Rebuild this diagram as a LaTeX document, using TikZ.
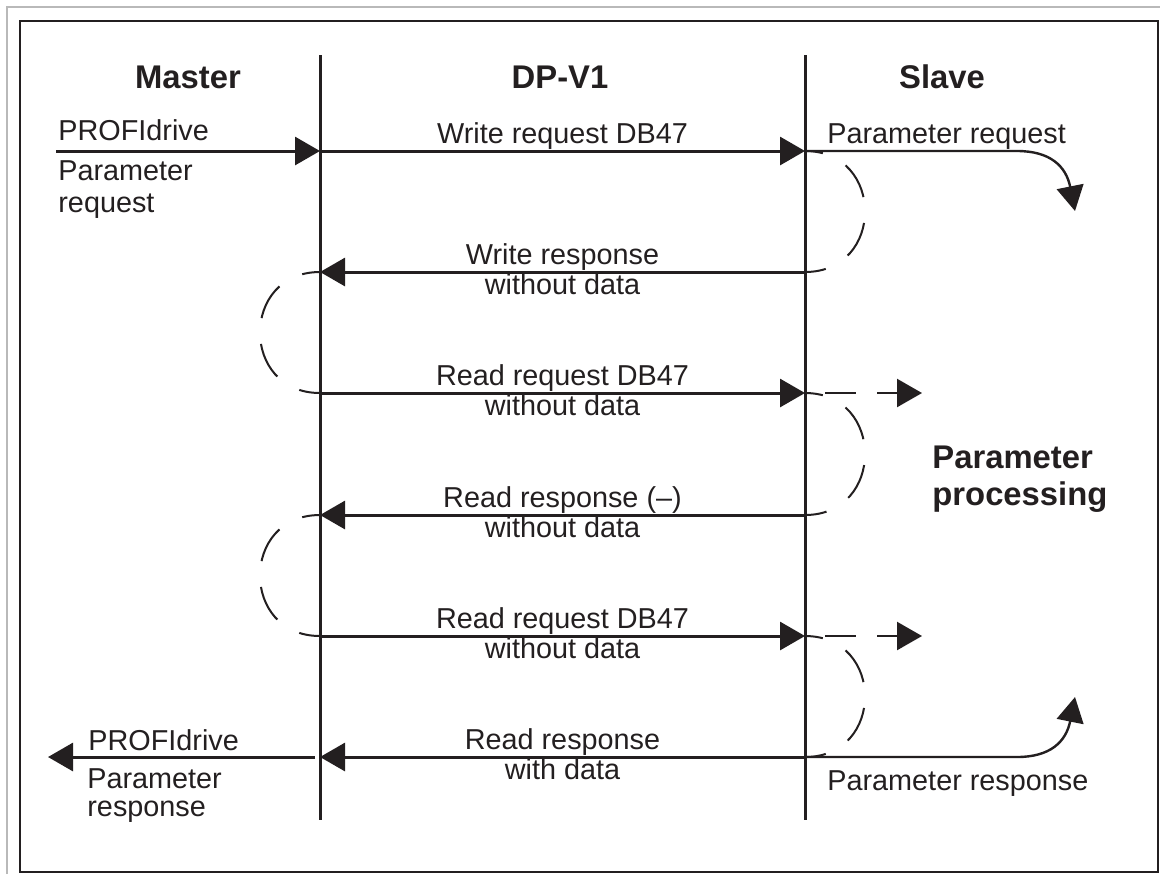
\documentclass[tikz,border=0pt]{standalone}
\usepackage{fontspec}
\setmainfont{Liberation Sans}
\usepackage{tikz}
\usetikzlibrary{arrows.meta, positioning, calc}
\usepackage{xcolor}
\definecolor{ink}{RGB}{35,31,32}
\definecolor{rim}{RGB}{185,185,185}

\tikzset{
  txt/.style={font=\fontsize{14.4}{17}\selectfont, text=ink, inner sep=0pt},
  head/.style={font=\fontsize{16.4}{18.5}\selectfont\bfseries, text=ink, inner sep=0pt},
  msg/.style={draw=ink, line width=1.5pt, -{Triangle[length=12.5pt, width=14pt]}},
  turn/.style={draw=ink, line width=1.2pt, -{Triangle[length=12.5pt, width=13.5pt]}},
  wait/.style={draw=ink, line width=1pt, dash pattern=on 18.5pt off 13pt, dash phase=9.5pt},
  poll/.style={msg, line width=1.2pt, dash pattern=on 15.5pt off 10.5pt, dash phase=16pt},
  upper/.style={txt, anchor=base, yshift=4pt},
  lower/.style={txt, anchor=base, yshift=-11pt},
}

\begin{document}
\begin{tikzpicture}[x=0.5pt, y=-0.5pt]
    \useasboundingbox (0,0) rectangle (1160,874);
    % screenshot rim and frame
    \draw[rim, line width=1pt] (7,874) -- (7,7) -- (1160,7);
    \draw[ink, line width=1.2pt] (20,21) rectangle (1158,872);

    % column heads
    \node[head, anchor=base] (master) at (188,88) {Master};
    \node[head, anchor=base] (dpv) at (560,88) {DP-V1};
    \node[head, anchor=base] (slave) at (942,88) {Slave};

    % lifelines
    \coordinate (Mt) at (320,55);
    \coordinate (Mb) at (320,820);
    \coordinate (St) at (805,55);
    \coordinate (Sb) at (805,820);
    \draw[ink, line width=1.5pt] (Mt) -- (Mb);
    \draw[ink, line width=1.5pt] (St) -- (Sb);

    \foreach \y [count=\i] in {151,272,393,515,636,757} {
      \coordinate (M\i) at (320,\y);
      \coordinate (S\i) at (805,\y);
    }

    % telegrams
    \coordinate (src) at (56,151);
    \coordinate (dst) at (48,757);
    \draw[msg] (src) -- (M1);
    \draw[msg] (M1) -- node[upper] {Write request DB47} (S1);
    \draw[msg] (S2) -- node[upper] {Write response} node[lower] {without data} (M2);
    \draw[msg] (M3) -- node[upper] {Read request DB47} node[lower] {without data} (S3);
    \draw[msg] (S4) -- node[upper] {Read response (--)} node[lower] {without data} (M4);
    \draw[msg] (M5) -- node[upper] {Read request DB47} node[lower] {without data} (S5);
    \draw[msg] (S6) -- node[upper] {Read response} node[lower] {with data} (M6);
    \draw[msg, shorten <=2.5pt] (M6) -- (dst);

    % waiting times
    \foreach \a/\b in {S1/S2, S3/S4, S5/S6}
      \draw[wait] (\a) .. controls +(80,0) and +(80,0) .. (\b);
    \foreach \a/\b in {M2/M3, M4/M5}
      \draw[wait] (\a) .. controls +(-80,0) and +(-80,0) .. (\b);

    % polling
    \coordinate (P3) at (922,393);
    \coordinate (P5) at (922,636);
    \draw[poll] (S3) -- (P3);
    \draw[poll] (S5) -- (P5);

    % into and out of processing
    \coordinate (C1) at (1017,151);
    \coordinate (Q1) at (1075,211);
    \coordinate (C6) at (1017,757);
    \coordinate (Q6) at (1075,697);
    \draw[turn] (S1) -- (C1) .. controls +(33,0) and +(-9,-45) .. (Q1);
    \draw[turn] (S6) -- (C6) .. controls +(33,0) and +(-9,45) .. (Q6);

    % side labels
    \node[txt, anchor=base west] (pd1) at (58,140) {PROFIdrive};
    \node[txt, anchor=base west] (pa1) at (58,180) {Parameter};
    \node[txt, anchor=base west] (rq1) at (58,212) {request};
    \node[txt, anchor=base west] (pd6) at (88,750) {PROFIdrive};
    \node[txt, anchor=base west] (pa6) at (87,788) {Parameter};
    \node[txt, anchor=base west] (rs6) at (87,816) {response};
    \node[txt, anchor=base west] (preq) at (827,143) {Parameter request};
    \node[txt, anchor=base west] (pres) at (827,790) {Parameter response};
    \node[head, anchor=base west] (pp1) at (932,468) {Parameter};
    \node[head, anchor=base west] (pp2) at (932,505) {processing};
\end{tikzpicture}
\end{document}
